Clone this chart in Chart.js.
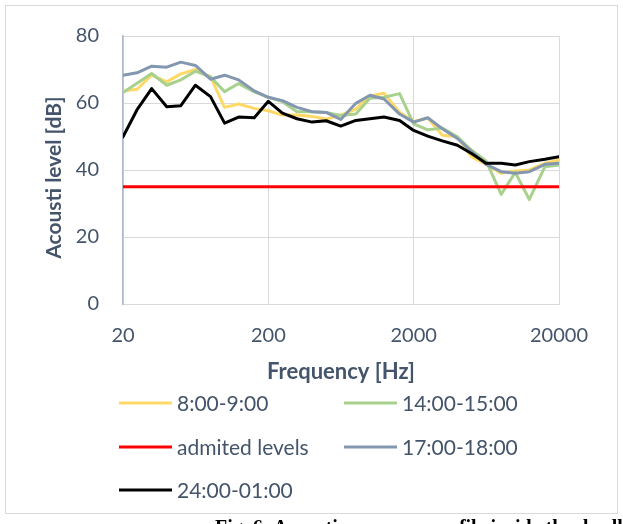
<!DOCTYPE html>
<html>
<head>
<meta charset="utf-8">
<script src="https://cdn.jsdelivr.net/npm/chart.js@4/dist/chart.umd.min.js"></script>
<style>
  html, body { margin: 0; padding: 0; background: #fff; }
  #wrap { position: relative; width: 623px; height: 524px; overflow: hidden; }
  canvas { display: block; }
  #caption {
    position: absolute; left: 215px; top: 517px;
    font: bold 20px "Liberation Serif", serif; line-height: 1;
    white-space: nowrap; color: #000;
  }
</style>
</head>
<body>
<div id="wrap">
  <canvas id="chart" width="623" height="524"></canvas>
  <div id="caption">Fig. 6: Acoustic pressure profile inside the dwelling</div>
</div>
<script>
// One-third octave band centre frequencies [Hz]
const frequencies = [20, 25, 31.5, 40, 50, 63, 80, 100, 125, 160, 200, 250, 315, 400, 500,
  630, 800, 1000, 1250, 1600, 2000, 2500, 3150, 4000, 5000, 6300, 8000, 10000, 12500, 16000, 20000];

// Measured levels [dB] per time slot
const levels0800 = [63.6, 64.1, 68.3, 66.3, 68.7, 70.0, 67.8, 58.7, 59.7, 58.4, 57.7, 56.4, 56.4, 56.0, 55.2,
  56.4, 58.2, 62.1, 62.9, 57.2, 54.5, 55.5, 50.4, 49.9, 44.0, 41.7, 39.0, 39.7, 40.0, 42.0, 43.0];
const levels1400 = [63.1, 65.9, 68.8, 65.3, 66.9, 69.5, 67.8, 63.4, 65.8, 63.3, 61.7, 60.4, 57.4, 57.4, 57.2,
  56.3, 56.7, 61.4, 61.7, 62.8, 53.8, 52.0, 52.5, 49.9, 45.9, 42.7, 32.7, 39.3, 31.2, 41.0, 41.5];
const admittedLevel = 35;
const levels1700 = [68.3, 69.0, 71.0, 70.7, 72.2, 71.2, 67.1, 68.3, 66.9, 63.6, 61.7, 60.7, 58.7, 57.4, 57.2,
  55.1, 59.9, 62.3, 61.2, 56.7, 54.3, 55.6, 52.3, 49.4, 45.6, 41.7, 39.5, 39.0, 39.5, 41.7, 42.0];
const levels2400 = [49.9, 58.0, 64.3, 58.9, 59.2, 65.3, 61.9, 54.0, 55.8, 55.6, 60.5, 57.0, 55.3, 54.3, 54.7,
  53.1, 54.8, 55.3, 55.8, 54.8, 51.8, 50.1, 48.7, 47.4, 44.9, 42.0, 42.0, 41.5, 42.5, 43.2, 44.0];

const xTickValues = [20, 200, 2000, 20000];
const yTickValues = [0, 20, 40, 60, 80];

const seriesNames = ['8:00-9:00', '14:00-15:00', 'admited levels', '17:00-18:00', '24:00-01:00'];
const seriesColors = ['#FFD966', '#A9D18E', '#FF0000', '#8497B0', '#000000'];

const TEXT = '#44546A';
const GRID = '#D9D9D9';

const toPoints = arr => frequencies.map((f, i) => ({ x: f, y: arr[i] }));
const seriesValues = [
  levels0800,
  levels1400,
  frequencies.map(() => admittedLevel),
  levels1700,
  levels2400
];

// later series sit on top (lower "order" is drawn last)
const datasets = seriesValues.map((vals, i) => ({
  label: seriesNames[i],
  data: toPoints(vals),
  borderColor: seriesColors[i],
  backgroundColor: seriesColors[i],
  borderWidth: 3,
  pointRadius: 0,
  tension: 0,
  borderJoinStyle: 'round',
  borderCapStyle: 'round',
  order: seriesValues.length - i
}));

// frame around the whole chart and the two-column legend underneath
const frameAndLegend = {
  id: 'frameAndLegend',
  beforeDraw(chart) {
    const ctx = chart.ctx;
    ctx.save();
    ctx.fillStyle = '#fff';
    ctx.fillRect(0, 0, chart.width, chart.height);
    ctx.strokeStyle = GRID;
    ctx.lineWidth = 1;
    ctx.strokeRect(5.5, 5.5, 612, 508);
    ctx.restore();
  },
  afterDraw(chart) {
    const ctx = chart.ctx;
    const colX = [119, 344];
    const rowY = [403, 447, 490];
    ctx.save();
    ctx.font = '21px Lato';
    ctx.textBaseline = 'middle';
    ctx.textAlign = 'left';
    chart.data.datasets.forEach((ds, i) => {
      const x = colX[i % 2];
      const y = rowY[Math.floor(i / 2)];
      ctx.strokeStyle = ds.borderColor;
      ctx.lineWidth = 3;
      ctx.beginPath();
      ctx.moveTo(x, y);
      ctx.lineTo(x + 53, y);
      ctx.stroke();
      ctx.fillStyle = TEXT;
      ctx.fillText(ds.label, x + 58, y + 1);
    });
    ctx.restore();
  }
};

new Chart(document.getElementById('chart'), {
  type: 'line',
  data: { datasets },
  options: {
    responsive: false,
    animation: false,
    devicePixelRatio: 1,
    layout: { padding: { left: 40, right: 64, top: 33, bottom: 139 } },
    plugins: { legend: { display: false }, tooltip: { enabled: false } },
    scales: {
      x: {
        type: 'logarithmic',
        min: 20,
        max: 20000,
        afterBuildTicks: s => { s.ticks = xTickValues.map(v => ({ value: v })); },
        afterFit: s => { s.height = 81; },
        ticks: {
          color: TEXT,
          font: { family: 'Lato', size: 20 },
          padding: 20,
          maxRotation: 0,
          autoSkip: false,
          callback: v => String(v)
        },
        grid: { color: GRID, lineWidth: 1, drawTicks: false },
        border: { color: GRID, width: 1 },
        title: {
          display: true,
          text: 'Frequency [Hz]',
          color: TEXT,
          font: { family: 'Lato', size: 22, weight: 'bold', lineHeight: 1.2 },
          padding: 0
        }
      },
      y: {
        min: 0,
        max: 80,
        afterBuildTicks: s => { s.ticks = yTickValues.map(v => ({ value: v })); },
        afterFit: s => { s.width = 83; },
        ticks: {
          color: TEXT,
          font: { family: 'Lato', size: 20 },
          padding: 24
        },
        grid: { color: GRID, lineWidth: 1, drawTicks: false },
        border: { color: '#ADB9CA', width: 1.5 },
        title: {
          display: true,
          text: 'Acousti level [dB]\u00A0\u00A0\u00A0',
          color: TEXT,
          font: { family: 'Lato', size: 21, weight: 'bold', lineHeight: 1.2 },
          padding: { top: 2, bottom: 0 }
        }
      }
    }
  },
  plugins: [frameAndLegend]
});
</script>
</body>
</html>
